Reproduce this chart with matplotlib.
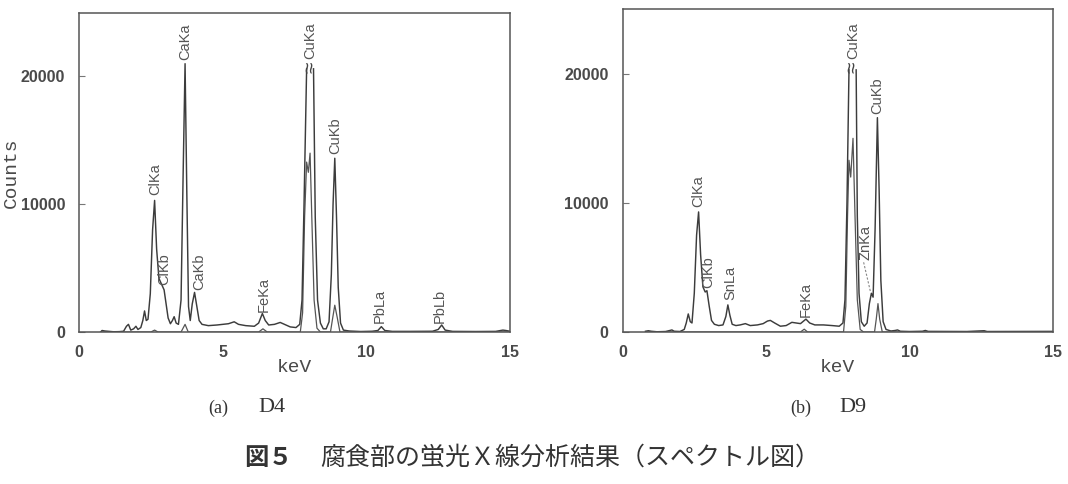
import numpy as np
import matplotlib
matplotlib.use("Agg")
import matplotlib.pyplot as plt

nan = np.nan

# ---------------- data: D4 ----------------
d4_kev = [0.75, 0.80, 0.90, 1.00, 1.20, 1.40, 1.55, 1.65, 1.72, 1.80, 1.90, 1.98, 2.05, 2.15,
          2.22, 2.28, 2.34, 2.40, 2.48, 2.56, 2.63, 2.70, 2.78, 2.88, 2.96, 3.03, 3.10, 3.18,
          3.25, 3.31, 3.38, 3.46, 3.55, 3.62, 3.69, 3.75, 3.81, 3.87, 3.94, 4.02, 4.10, 4.18,
          4.28, 4.50, 4.80, 5.00, 5.20, 5.40, 5.55, 5.80, 6.10, 6.25, 6.38, 6.48, 6.60, 6.80,
          7.00, 7.15, 7.35, 7.55, 7.68, 7.76, 7.83, 7.92, 8.04, 8.16, 8.22, 8.30, 8.40, 8.50,
          8.60, 8.70, 8.78, 8.84, 8.90, 8.96, 9.02, 9.10, 9.20, 9.40, 9.80, 10.20, 10.40, 10.52,
          10.64, 10.90, 11.50, 12.30, 12.50, 12.62, 12.74, 13.00, 13.80, 14.50, 14.75, 14.85, 15.00]
d4_counts = [0, 120, 80, 60, 20, 30, 60, 450, 600, 150, 250, 450, 200, 350,
             900, 1650, 900, 1000, 3000, 8000, 10300, 6500, 4200, 3700, 3300, 2200, 1100, 650,
             900, 1200, 700, 600, 2500, 12000, 21000, 11000, 2000, 900, 2200, 3100, 2000, 900,
             600, 500, 550, 600, 650, 800, 600, 500, 450, 700, 1450, 900, 550, 600,
             750, 600, 400, 350, 600, 2500, 10000, 20600, nan, 20600, 9000, 2500, 700, 250,
             250, 800, 4500, 10000, 13600, 9000, 3500, 700, 150, 80, 40, 60, 120, 420,
             120, 50, 50, 60, 200, 550, 150, 50, 40, 50, 150, 120, 60]

d4_sub_kev = [0.80, 2.50, 2.63, 2.75, 3.55, 3.69, 3.80, 6.25, 6.40, 6.55, 7.70, 7.78, 7.85,
              7.92, 7.98, 8.04, 8.10, 8.18, 8.28, 8.40, 8.75, 8.82, 8.90, 8.98, 9.08, 15.00]
d4_sub_counts = [0, 0, 150, 0, 0, 600, 0, 0, 250, 0, 0, 1500, 9000,
                 13300, 12500, 14000, 9000, 2500, 300, 0, 0, 1000, 2100, 1200, 0, 0]

d4_peak_names = ["ClKa", "ClKb", "CaKa", "CaKb", "FeKa", "≈CuKa", "CuKb", "PbLa", "PbLb"]
d4_peak_kev = [2.65, 2.98, 3.69, 4.18, 6.42, 8.04, 8.92, 10.47, 12.57]
d4_peak_counts = [10700, 3700, 21300, 3300, 1600, 20300, 13900, 700, 700]

# ---------------- data: D9 ----------------
d9_kev = [0.80, 0.90, 1.00, 1.20, 1.50, 1.65, 1.72, 1.80, 2.00, 2.15, 2.22, 2.29, 2.36, 2.42,
          2.50, 2.58, 2.65, 2.72, 2.80, 2.88, 2.94, 3.02, 3.10, 3.20, 3.35, 3.50, 3.60, 3.67,
          3.74, 3.82, 3.95, 4.10, 4.28, 4.45, 4.70, 4.90, 5.05, 5.15, 5.30, 5.50, 5.70, 5.90,
          6.05, 6.20, 6.39, 6.52, 6.70, 7.00, 7.30, 7.55, 7.68, 7.75, 7.82, 7.89, 8.03, 8.14,
          8.18, 8.24, 8.32, 8.42, 8.52, 8.60, 8.67, 8.73, 8.80, 8.88, 8.94, 9.00, 9.08, 9.18,
          9.35, 9.50, 9.58, 9.68, 10.00, 10.45, 10.55, 10.65, 12.00, 12.60, 12.70, 15.00]
d9_counts = [60, 100, 60, 20, 40, 120, 160, 60, 40, 200, 700, 1400, 800, 700,
             3000, 7500, 9300, 6000, 3500, 3100, 3200, 2000, 900, 600, 500, 550, 1200, 2100,
             1300, 600, 500, 550, 650, 500, 550, 650, 850, 900, 700, 450, 500, 750,
             700, 650, 1000, 700, 550, 550, 500, 450, 700, 2500, 10000, 20300, nan, 20300,
             9000, 3000, 800, 450, 700, 2200, 3000, 2700, 8000, 16600, 11000, 4000, 800, 200,
             80, 120, 160, 60, 40, 60, 120, 50, 40, 100, 40, 50]

d9_sub_kev = [0.80, 6.20, 6.33, 6.45, 7.70, 7.78, 7.84, 7.89, 7.95, 8.03, 8.10, 8.18, 8.28,
              8.40, 8.78, 8.84, 8.90, 8.96, 9.05, 15.00]
d9_sub_counts = [0, 0, 220, 0, 0, 2000, 9000, 13300, 12000, 15000, 9000, 2500, 200,
                 0, 0, 1000, 2200, 1000, 0, 0]

d9_peak_names = ["ClKa", "ClKb", "SnLa", "FeKa", "≈CuKa", "ZnKa", "CuKb"]
d9_peak_kev = [2.64, 2.99, 3.75, 6.39, 8.03, 8.47, 8.88]
d9_peak_counts = [9700, 3400, 2500, 1200, 20050, 5600, 16900]

x_ticks = [0, 5, 10, 15]
y_ticks = [0, 10000, 20000]

# ---------------- drawing ----------------
LINE = "#3c3c3c"
TXT = "#4a4a4a"

fig = plt.figure(figsize=(10.68, 4.84), dpi=100)
ax1 = fig.add_axes([0.074, 0.314, 0.4036, 0.660])
ax2 = fig.add_axes([0.5829, 0.314, 0.4031, 0.667])


def style(ax):
    ax.set_xlim(0, 15)
    ax.set_ylim(0, 25000)
    ax.set_xticks(x_ticks)
    ax.set_yticks(y_ticks)
    ax.set_xticklabels([str(v) for v in x_ticks], fontfamily="Liberation Sans",
                       fontweight="bold", fontsize=11.5, color=TXT)
    ax.set_yticklabels([str(v) for v in y_ticks], fontfamily="Liberation Sans",
                       fontweight="bold", fontsize=11.5, color=TXT)
    ax.tick_params(axis="x", length=0, pad=9)
    ax.tick_params(axis="y", direction="in", length=4, width=0.8, color="#777", pad=10)
    for s in ax.spines.values():
        s.set_color("#555")
        s.set_linewidth(1.1)
    ax.set_xlabel("keV", fontfamily="Liberation Mono", fontsize=14, color=TXT)


def draw(ax, kev, counts, skev, scounts, names, pk, pc):
    ax.plot(skev, scounts, color="#555", lw=0.9)
    ax.plot(kev, counts, color=LINE, lw=1.05)
    for n, x, y in zip(names, pk, pc):
        fam = ["Liberation Sans", "DejaVu Sans"]
        if n.startswith("≈"):
            ax.text(x, y, "≈", rotation=90, ha="center", va="bottom", fontsize=15,
                    fontfamily=fam, color="#444")
            ax.annotate(n[1:], xy=(x, y), xytext=(0, 10), textcoords="offset points",
                        rotation=90, ha="center", va="bottom", fontsize=10.5,
                        fontfamily=fam, color="#555")
        else:
            ax.text(x, y, n, rotation=90, ha="center", va="bottom", fontsize=10.5,
                    fontfamily=fam, color="#555")


style(ax1)
style(ax2)
draw(ax1, d4_kev, d4_counts, d4_sub_kev, d4_sub_counts, d4_peak_names, d4_peak_kev, d4_peak_counts)
draw(ax2, d9_kev, d9_counts, d9_sub_kev, d9_sub_counts, d9_peak_names, d9_peak_kev, d9_peak_counts)
ax2.plot([8.40, 8.64], [5400, 3100], color="#888", lw=0.8, ls=(0, (2, 1.5)))

ax1.set_ylabel("Counts", fontfamily="Liberation Mono", fontsize=14, color=TXT)
ax1.yaxis.set_label_coords(-0.137, 0.5)
ax1.xaxis.set_label_coords(0.5, -0.085)
ax2.xaxis.set_label_coords(0.5, -0.085)

# sub captions
yc = 1 - 408 / 484
fig.text(218 / 1068, yc, "(a)", fontfamily="Liberation Serif", fontsize=13,
         ha="center", va="center", color="#333")
fig.text(272 / 1068, yc, "D4", fontfamily="Liberation Serif", fontsize=16,
         ha="center", va="center", color="#333")
fig.text(801 / 1068, yc, "(b)", fontfamily="Liberation Serif", fontsize=13,
         ha="center", va="center", color="#333")
fig.text(853 / 1068, yc, "D9", fontfamily="Liberation Serif", fontsize=16,
         ha="center", va="center", color="#333")

ycap = 1 - 458 / 484
fig.text(244 / 1068, ycap, "図５", fontfamily=["Noto Sans CJK JP", "DejaVu Sans"],
         fontweight="bold", fontsize=17.5, ha="left", va="center", color="#333")
fig.text(320 / 1068, ycap, "腐食部の蛍光Ｘ線分析結果（スペクトル図）",
         fontfamily=["Noto Sans CJK JP", "DejaVu Sans"], fontsize=18,
         ha="left", va="center", color="#333")

fig.savefig("out.png", dpi=100, facecolor="white")
